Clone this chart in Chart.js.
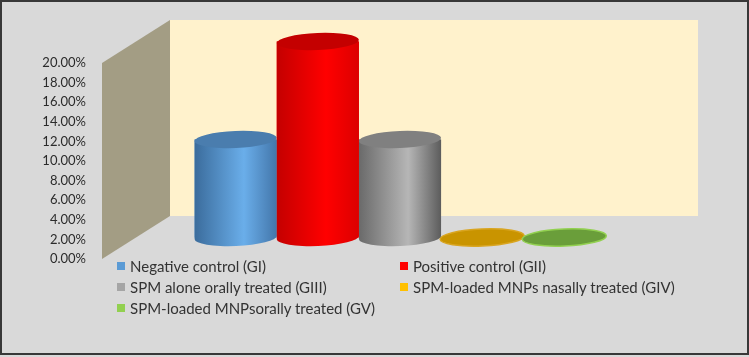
<!DOCTYPE html>
<html>
<head>
<meta charset="utf-8">
<script src="https://cdn.jsdelivr.net/npm/chart.js@4.4.1/dist/chart.umd.min.js"></script>
<style>
  body { margin: 0; }
  #wrap { position: relative; width: 749px; height: 357px; background: #d9d9d9; overflow: hidden; }
  #chart { position: absolute; left: 0; top: 0; }
  #frame { position: absolute; left: 0; top: 0; width: 749px; height: 355px; box-sizing: border-box;
           border: 2px solid #383838; pointer-events: none; }
  #legend { position: absolute; left: 117px; top: 257px; width: 600px; font-family: Lato, sans-serif;
            font-size: 15px; color: #333333; display: grid; grid-template-columns: 283px 300px; row-gap: 3px; }
  #legend div { display: flex; align-items: center; height: 18px; white-space: nowrap; }
  #legend span.box { width: 8px; height: 8px; margin-right: 5px; }
</style>
</head>
<body>
<div id="wrap">
  <canvas id="chart" width="749" height="357"></canvas>
  <div id="legend"></div>
  <div id="frame"></div>
</div>
<script>
// data
const categories = [''];
const seriesNames = [
  'Negative control (GI)',
  'Positive control (GII)',
  'SPM alone orally treated (GIII)',
  'SPM-loaded MNPs nasally treated (GIV)',
  'SPM-loaded MNPsorally treated (GV)',
];
const seriesValues = [10, 20, 10, 0, 0];
const tickValues = [0, 2, 4, 6, 8, 10, 12, 14, 16, 18, 20];

// styles
const legendColors = ['#5b9bd5', '#ff0000', '#a5a5a5', '#ffc000', '#92d050'];
const bodyStops = [
  ['#3b6c9c', '#6aaeea', '#4376aa'],
  ['#c40000', '#ff0000', '#dc0000'],
  ['#6a6a6a', '#b6b6b6', '#5c5c5c'],
  ['#c99400', '#c99400', '#c99400'],
  ['#6a9e3a', '#6a9e3a', '#6a9e3a'],
];
const topColors = ['#4a7dae', '#c40000', '#808080', '#c99400', '#6a9e3a'];
const discEdges = [null, null, null, '#d9a520', '#92d050'];
const depthX = 68, depthY = 43;
const ry = 8.5;

const walls = {
  id: 'walls',
  beforeDatasetsDraw(chart) {
    const { ctx, chartArea: a } = chart;
    const fl = a.left - depthX / 2, fr = a.right - depthX / 2;
    ctx.save();
    ctx.fillStyle = '#fff2cc';
    ctx.fillRect(fl + depthX, a.top - depthY, fr - fl, a.bottom - a.top);
    ctx.fillStyle = '#a39d84';
    ctx.beginPath();
    ctx.moveTo(fl, a.top);
    ctx.lineTo(fl + depthX, a.top - depthY);
    ctx.lineTo(fl + depthX, a.bottom - depthY);
    ctx.lineTo(fl, a.bottom);
    ctx.closePath();
    ctx.fill();
    ctx.restore();
  }
};

const cylinders = {
  id: 'cylinders',
  afterDatasetsDraw(chart) {
    const ctx = chart.ctx;
    const order = [3, 4, 0, 2, 1];
    ctx.save();
    order.forEach(i => {
      const el = chart.getDatasetMeta(i).data[0];
      const rx = el.width / 2;
      const l = el.x - rx, r = el.x + rx;
      const tilt = -0.04;
      if (Math.abs(el.base - el.y) < 1) {
        ctx.beginPath();
        ctx.ellipse(el.x, el.base, rx + 1, ry, tilt, 0, Math.PI * 2);
        ctx.fillStyle = topColors[i];
        ctx.fill();
        ctx.lineWidth = 1.5;
        ctx.strokeStyle = discEdges[i];
        ctx.stroke();
        return;
      }
      const g = ctx.createLinearGradient(l, 0, r, 0);
      const s = bodyStops[i];
      g.addColorStop(0, s[0]);
      g.addColorStop(0.6, s[1]);
      g.addColorStop(1, s[2]);
      ctx.beginPath();
      ctx.moveTo(l, el.y);
      ctx.lineTo(l, el.base);
      ctx.ellipse(el.x, el.base, rx, ry, tilt, Math.PI, 0, true);
      ctx.lineTo(r, el.y);
      ctx.closePath();
      ctx.fillStyle = g;
      ctx.fill();
      ctx.beginPath();
      ctx.ellipse(el.x, el.y, rx, ry, tilt, 0, Math.PI * 2);
      ctx.fillStyle = topColors[i];
      ctx.fill();
    });
    ctx.restore();
  }
};

// the bars stand half way back in the box, so their scale is shifted against the front axis
const shift = 20 * (depthY / 2) / 196;

const chart = new Chart(document.getElementById('chart').getContext('2d'), {
  type: 'bar',
  data: {
    labels: categories,
    datasets: seriesNames.map((name, i) => ({
      label: name,
      data: [seriesValues[i]],
      backgroundColor: legendColors[i],
      yAxisID: 'y2',
      clip: false,
    })),
  },
  options: {
    responsive: false,
    animation: false,
    layout: { padding: { left: 0, right: 85, top: 63, bottom: 98 } },
    datasets: { bar: { categoryPercentage: 0.778, barPercentage: 1.0 } },
    plugins: { legend: { display: false }, tooltip: { enabled: false } },
    scales: {
      x: { display: false },
      y: {
        position: 'left',
        min: 0, max: 20,
        afterFit(scale) { scale.width = 136; },
        afterBuildTicks(scale) { scale.ticks = tickValues.map(v => ({ value: v })); },
        grid: { display: false, drawTicks: false },
        border: { display: false },
        ticks: {
          padding: 50,
          color: '#2b2b2b',
          font: { family: 'Lato', size: 13 },
          callback: v => v.toFixed(2) + '%',
        },
      },
      y2: { display: false, min: -shift, max: 20 - shift },
    },
  },
  plugins: [walls, cylinders],
});

const legendEl = document.getElementById('legend');
chart.data.datasets.forEach(ds => {
  const item = document.createElement('div');
  const box = document.createElement('span');
  box.className = 'box';
  box.style.background = ds.backgroundColor;
  item.appendChild(box);
  item.appendChild(document.createTextNode(ds.label));
  legendEl.appendChild(item);
});
</script>
</body>
</html>
